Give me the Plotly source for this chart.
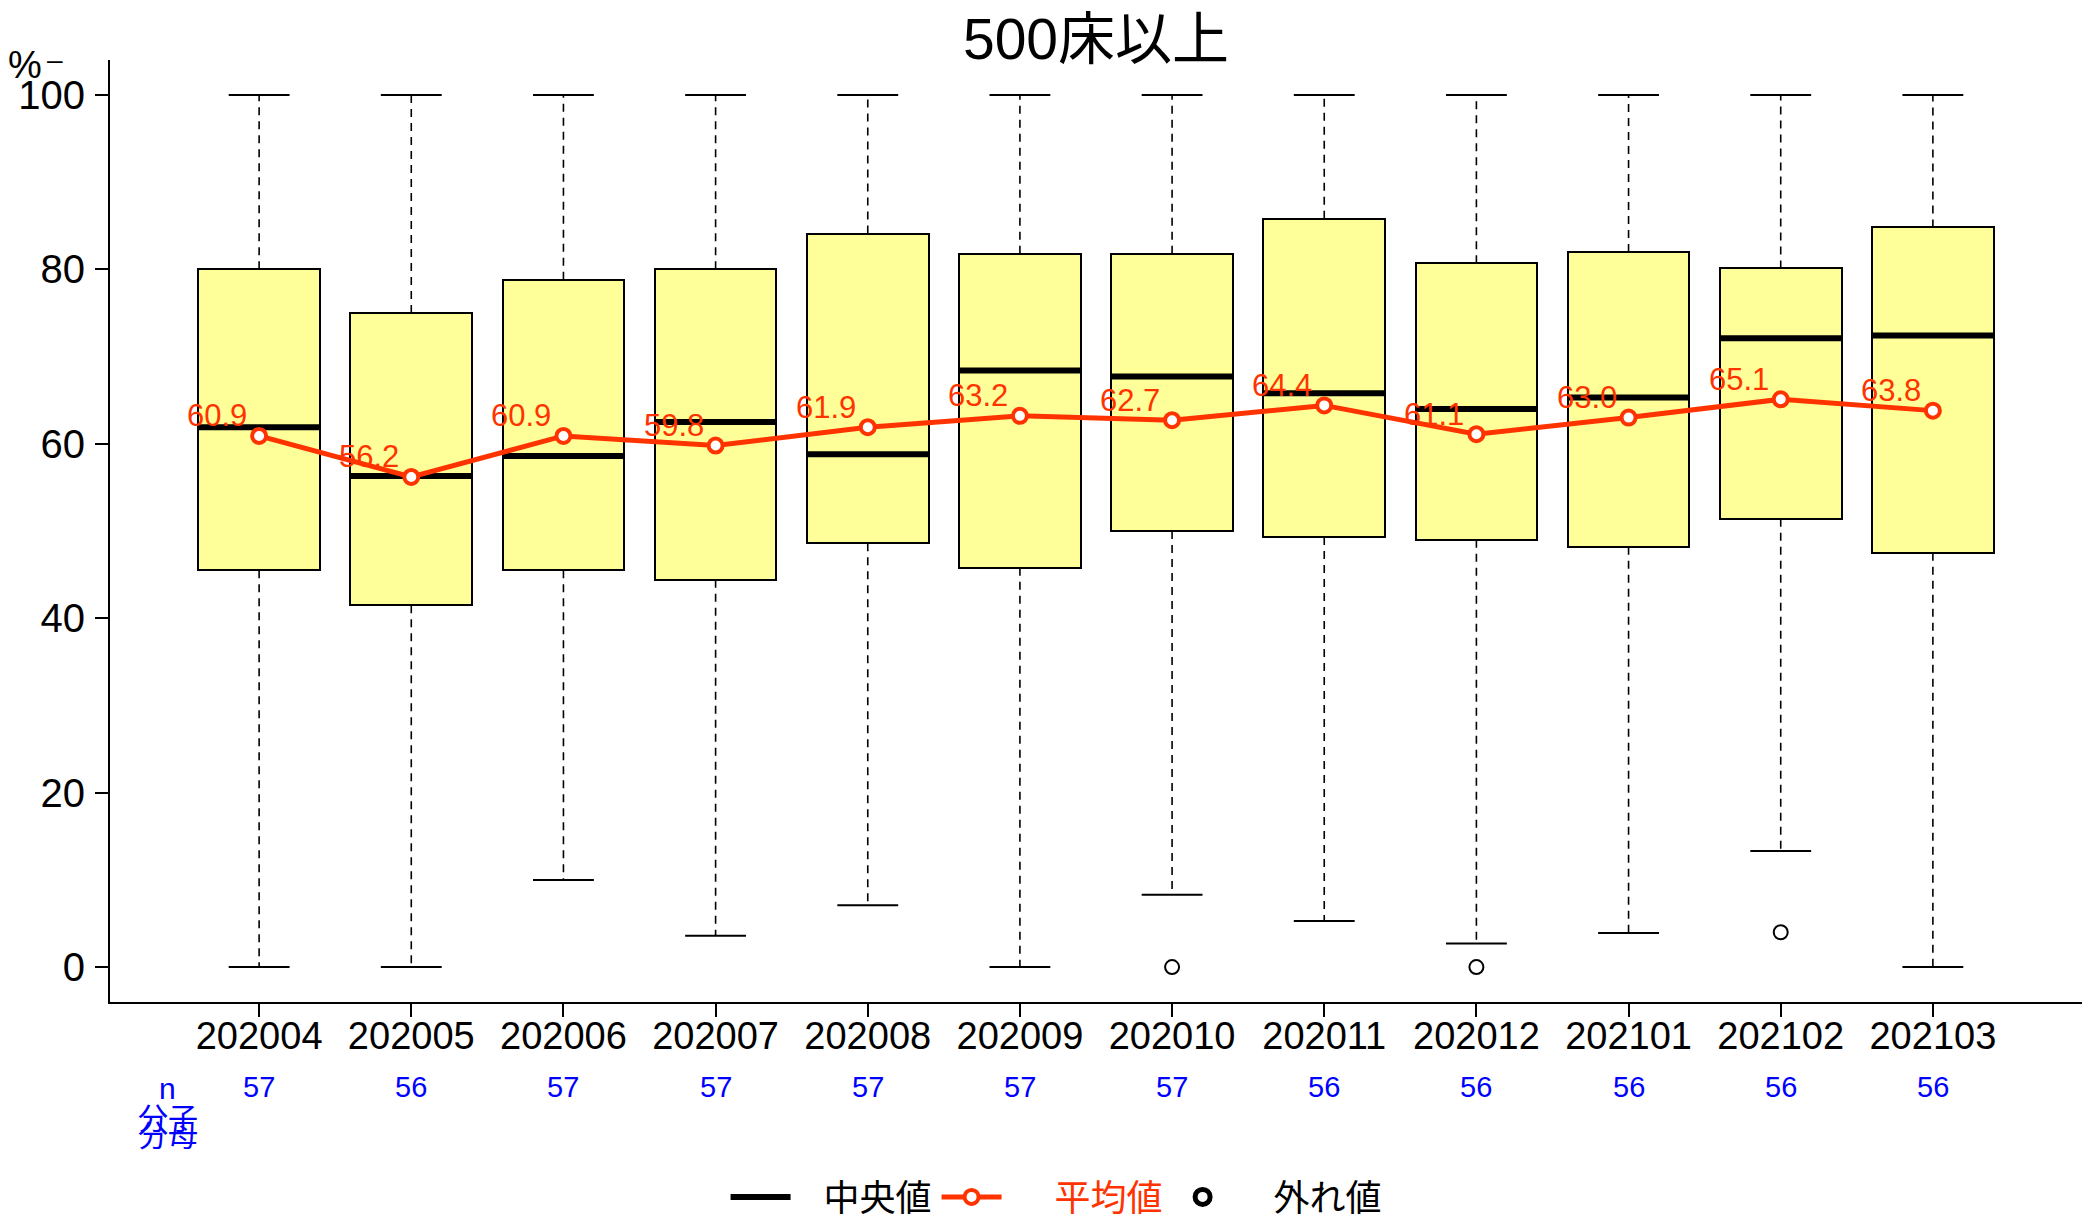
import plotly.graph_objects as go

# ---- data ----
months = ["202004", "202005", "202006", "202007", "202008", "202009",
          "202010", "202011", "202012", "202101", "202102", "202103"]
n_counts = [57, 56, 57, 57, 57, 57, 57, 56, 56, 56, 56, 56]
whisker_high = [100, 100, 100, 100, 100, 100, 100, 100, 100, 100, 100, 100]
q3 = [80.0, 75.0, 78.8, 80.0, 84.1, 81.8, 81.8, 85.8, 80.7, 82.0, 80.1, 84.8]
median = [61.9, 56.3, 58.6, 62.5, 58.8, 68.4, 67.7, 65.8, 64.0, 65.3, 72.1, 72.4]
q1 = [45.5, 41.5, 45.5, 44.4, 48.6, 45.8, 50.0, 49.3, 49.0, 48.2, 51.4, 47.5]
whisker_low = [0.0, 0.0, 10.0, 3.6, 7.1, 0.0, 8.3, 5.3, 2.7, 3.9, 13.3, 0.0]
means = [60.9, 56.2, 60.9, 59.8, 61.9, 63.2, 62.7, 64.4, 61.1, 63.0, 65.1, 63.8]
outlier_months = ["202010", "202012", "202102"]
outlier_values = [0.0, 0.0, 4.0]
y_ticks = [0, 20, 40, 60, 80, 100]

# ---- styles ----
RED = "#FF3300"
BLUE = "#0000FF"
BOX_FILL = "#FFFF99"
FONT = "Liberation Sans, Arial, Noto Sans CJK JP"
BOX_W = 0.8
CAP_W = 0.4
GAP = "\u2002\u00a0"  # spacing between legend symbol and text

# page body has an 8px default margin; the figure is sized to fill the rest
FIG_W, FIG_H = 2085, 1213

xs = list(range(1, len(months) + 1))
pos = {m: i + 1 for i, m in enumerate(months)}

fig = go.Figure()

# boxes
fig.add_trace(go.Bar(
    x=xs, y=[a - b for a, b in zip(q3, q1)], base=q1, width=BOX_W,
    marker=dict(color=BOX_FILL, line=dict(color="black", width=2)),
    showlegend=False, hoverinfo="skip"))

# whiskers (dashed)
wx, wy = [], []
for x, lo, hi, a, b in zip(xs, whisker_low, whisker_high, q1, q3):
    wx += [x, x, None, x, x, None]
    wy += [b, hi, None, a, lo, None]
fig.add_trace(go.Scatter(x=wx, y=wy, mode="lines",
                         line=dict(color="black", width=1.6, dash="8px,6px"),
                         showlegend=False, hoverinfo="skip"))

# caps
cx, cy = [], []
for x, lo, hi in zip(xs, whisker_low, whisker_high):
    cx += [x - CAP_W / 2, x + CAP_W / 2, None, x - CAP_W / 2, x + CAP_W / 2, None]
    cy += [hi, hi, None, lo, lo, None]
fig.add_trace(go.Scatter(x=cx, y=cy, mode="lines",
                         line=dict(color="black", width=2),
                         showlegend=False, hoverinfo="skip"))

# medians
mx, my = [], []
for x, m in zip(xs, median):
    mx += [x - BOX_W / 2, x + BOX_W / 2, None]
    my += [m, m, None]
fig.add_trace(go.Scatter(x=mx, y=my, mode="lines", name=GAP + "中央値",
                         line=dict(color="black", width=6),
                         showlegend=True, hoverinfo="skip"))

# means
fig.add_trace(go.Scatter(x=xs, y=means, mode="lines+markers",
                         name=GAP + "\u00a0\u00a0" + f'<span style="color:{RED}">平均値</span>',
                         line=dict(color=RED, width=5),
                         marker=dict(symbol="circle", size=14, color="white",
                                     line=dict(color=RED, width=4)),
                         showlegend=True, hoverinfo="skip"))

# outliers
fig.add_trace(go.Scatter(x=[pos[m] for m in outlier_months], y=outlier_values,
                         mode="markers", name="外れ値",
                         marker=dict(symbol="circle-open", size=14, color="black",
                                     line=dict(color="black", width=2)),
                         showlegend=False, hoverinfo="skip"))
# legend entry for outliers (bolder symbol, as in the reference legend)
fig.add_trace(go.Scatter(x=[None], y=[None], mode="markers",
                         name="\u2002\u2002外れ値",
                         marker=dict(symbol="circle-open", size=15, color="black",
                                     line=dict(color="black", width=5)),
                         showlegend=True, hoverinfo="skip"))

annotations = []
# mean value labels
for x, v in zip(xs, means):
    annotations.append(dict(x=x, y=v, xref="x", yref="y", text=f"{v:.1f}",
                            showarrow=False, xanchor="right", yanchor="middle",
                            xshift=-10, yshift=20,
                            font=dict(family=FONT, size=31, color=RED)))
# n counts
for x, c in zip(xs, n_counts):
    annotations.append(dict(x=x, y=0, xref="x", yref="paper", text=str(c),
                            showarrow=False, xanchor="center", yanchor="middle",
                            yshift=-85, font=dict(family=FONT, size=29, color=BLUE)))
# n / 分子 / 分母 labels
annotations.append(dict(x=0.40, y=0, xref="x", yref="paper", text="n", showarrow=False,
                        xanchor="center", yanchor="middle", yshift=-86,
                        font=dict(family=FONT, size=30, color=BLUE)))
annotations.append(dict(x=0.40, y=0, xref="x", yref="paper", text="分子", showarrow=False,
                        xanchor="center", yanchor="middle", yshift=-116,
                        font=dict(family=FONT, size=30, color=BLUE)))
annotations.append(dict(x=0.40, y=0, xref="x", yref="paper", text="分母", showarrow=False,
                        xanchor="center", yanchor="middle", yshift=-133,
                        font=dict(family=FONT, size=30, color=BLUE)))
# y unit
annotations.append(dict(x=0, y=1, xref="paper", yref="paper", text="%", showarrow=False,
                        xanchor="center", yanchor="middle", xshift=-85, yshift=-5,
                        font=dict(family=FONT, size=38, color="black")))
annotations.append(dict(x=0, y=1, xref="paper", yref="paper", text="–", showarrow=False,
                        xanchor="center", yanchor="middle", xshift=-55, yshift=1,
                        font=dict(family=FONT, size=28, color="black")))

fig.update_layout(
    width=FIG_W, height=FIG_H,
    margin=dict(l=102, r=11, t=52, b=219, autoexpand=False),
    paper_bgcolor="white", plot_bgcolor="white",
    title=dict(text="500床以上", x=0.5, xref="paper", xanchor="center",
               y=1 - 31 / FIG_H, yanchor="middle",
               font=dict(family=FONT, size=57, color="black")),
    xaxis=dict(range=[0.02, 12.98], tickmode="array", tickvals=xs, ticktext=months,
               showline=True, linecolor="black", linewidth=2,
               ticks="outside", ticklen=13, tickwidth=2, tickcolor="black",
               showgrid=False, zeroline=False, automargin=False,
               ticklabelstandoff=-14,
               tickfont=dict(family=FONT, size=38, color="black")),
    yaxis=dict(range=[-4, 104], tickmode="array", tickvals=y_ticks,
               showline=True, linecolor="black", linewidth=2,
               ticks="outside", ticklen=13, tickwidth=2, tickcolor="black",
               showgrid=False, zeroline=False, ticklabelstandoff=2, automargin=False,
               tickfont=dict(family=FONT, size=40, color="black")),
    legend=dict(orientation="h", x=0.48, xanchor="center", y=-0.207, yanchor="middle",
                font=dict(family=FONT, size=36, color="black"),
                bgcolor="rgba(0,0,0,0)", itemwidth=60),
    annotations=annotations,
    bargap=0,
)

fig.write_html("out.html")
